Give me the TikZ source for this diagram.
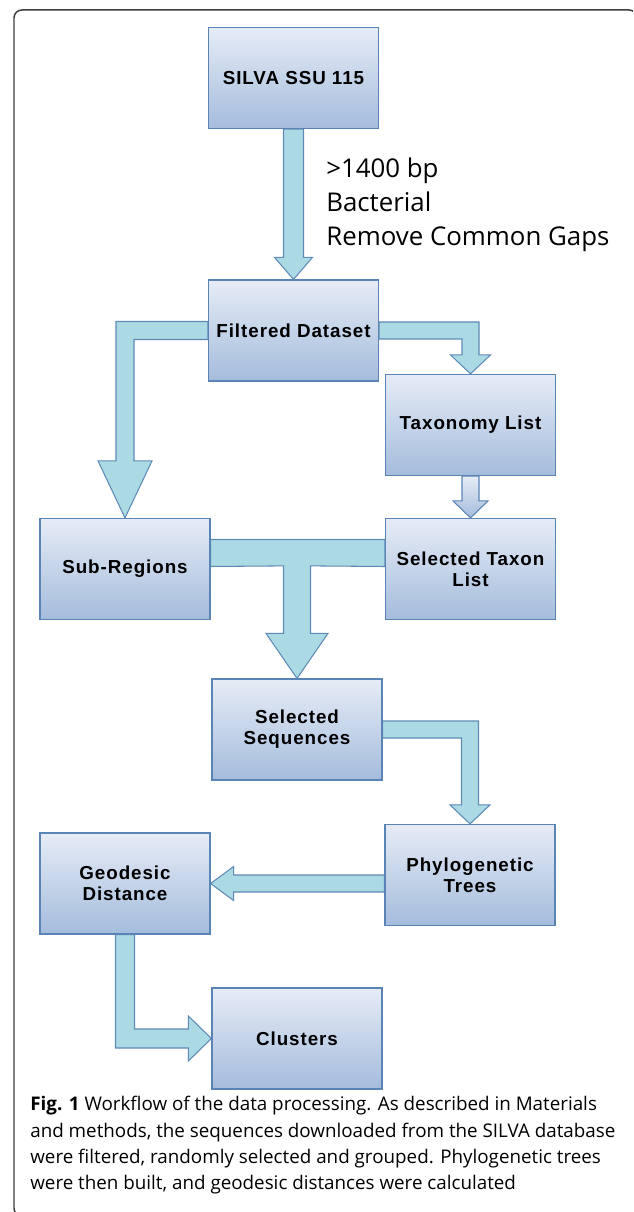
\documentclass[tikz,border=0pt]{standalone}
\usepackage{fontspec}
\setmainfont{Open Sans}
\newfontfamily\boxfont[LetterSpace=5]{Liberation Sans}
\usetikzlibrary{calc,backgrounds}
\definecolor{boxtop}{HTML}{E6ECF6}
\definecolor{boxbottom}{HTML}{A4BCDC}
\definecolor{boxline}{HTML}{5A84B6}
\definecolor{flowfill}{HTML}{ABDAE4}
\definecolor{flowline}{HTML}{5F8AB6}
\definecolor{framegray}{HTML}{3C3C3C}
\tikzset{
  stepbox/.style={draw=boxline,line width=0.7pt,top color=boxtop,bottom color=boxbottom,minimum width=3.4cm,minimum height=2.02cm,align=center,inner sep=2pt,font=\boxfont\bfseries\fontsize{10.7}{12}\selectfont},
  flowarrow/.style={draw=flowline,fill=flowfill,line width=0.6pt},
  flowarrowlight/.style={draw=boxline,top color=boxtop,bottom color=boxbottom,line width=0.6pt},
  notetext/.style={anchor=north west,inner sep=0pt,align=left,font=\fontsize{14.7}{19.3}\selectfont},
  captiontext/.style={anchor=north west,inner sep=0pt,align=left,font=\fontsize{10.7}{15}\selectfont}
}

\begin{document}
\begin{tikzpicture}[x=0.02cm,y=-0.02cm]
  \clip (0,0) rectangle (633,1212);
  \draw[framegray,line width=0.85pt,rounded corners=4.5pt] (14,10) rectangle (637,1216);

  % Workflow boxes
  \node[stepbox] (silva) at (293.5,78) {SILVA SSU 115};
  \node[stepbox] (filt) at (293.5,330.5) {Filtered Dataset};
  \node[stepbox] (taxo) at (470.5,425) {Taxonomy List};
  \node[stepbox] (subreg) at (125,569) {Sub-Regions};
  \node[stepbox] (seltax) at (470.5,569) {Selected Taxon\\List};
  \node[stepbox] (selseq) at (297,729.5) {Selected\\Sequences};
  \node[stepbox] (phylo) at (470,875) {Phylogenetic\\Trees};
  \node[stepbox] (geo) at (125,883.5) {Geodesic\\Distance};
  \node[stepbox] (clust) at (297,1038.5) {Clusters};

  % Filter criteria
  \node[notetext] (crit) at (326,158) {>1400 bp\\Bacterial\\Remove Common Gaps};

  % Block arrows
  \coordinate (c2) at (subreg.north |- filt.west);
  \coordinate (c3) at (taxo.north |- filt.east);
  \coordinate (tee) at ($(selseq.north)+(0,-112.5)$);
  \coordinate (c6) at (phylo.north |- selseq.east);
  \coordinate (c7) at (phylo.west |- geo.east);
  \coordinate (c8) at (geo.south |- clust.west);
  \begin{scope}[on background layer]
    \draw[flowarrow] ($(silva.south)+(-10,0)$) -- ($(filt.north)+(-10,-22)$) -- ($(filt.north)+(-19,-22)$) -- (filt.north)
      -- ($(filt.north)+(19,-22)$) -- ($(filt.north)+(10,-22)$) -- ($(silva.south)+(10,0)$) -- cycle;
    \draw[flowarrow] ($(filt.west)+(0,-9)$) -- ($(c2)+(-9,-9)$) -- ($(subreg.north)+(-9,-57)$) -- ($(subreg.north)+(-27,-57)$) -- (subreg.north)
      -- ($(subreg.north)+(27,-57)$) -- ($(subreg.north)+(9,-57)$) -- ($(c2)+(9,9)$) -- ($(filt.west)+(0,9)$) -- cycle;
    \draw[flowarrow] ($(filt.east)+(0,-8.5)$) -- ($(c3)+(8.5,-8.5)$) -- ($(taxo.north)+(8.5,-19)$) -- ($(taxo.north)+(20,-19)$) -- (taxo.north)
      -- ($(taxo.north)+(-20,-19)$) -- ($(taxo.north)+(-8.5,-19)$) -- ($(c3)+(-8.5,8.5)$) -- ($(filt.east)+(0,8.5)$) -- cycle;
    \draw[flowarrowlight] ($(taxo.south)+(-8.5,0)$) -- ($(seltax.north)+(-8.5,-17)$) -- ($(seltax.north)+(-17.5,-17)$) -- (seltax.north)
      -- ($(seltax.north)+(17.5,-17)$) -- ($(seltax.north)+(8.5,-17)$) -- ($(taxo.south)+(8.5,0)$) -- cycle;
    \draw[flowarrow] ($(subreg.east)+(0,-29.5)$) -- ($(seltax.west)+(0,-29.5)$) -- ($(seltax.west)+(0,-2.5)$) -- ($(tee)+(13.5,0)$)
      -- ($(selseq.north)+(13.5,-45)$) -- ($(selseq.north)+(31,-45)$) -- (selseq.north) -- ($(selseq.north)+(-31,-45)$)
      -- ($(selseq.north)+(-13.5,-45)$) -- ($(tee)+(-13.5,0)$) -- ($(subreg.east)+(0,-2.5)$) -- cycle;
    \draw[flowarrow] ($(selseq.east)+(0,-8.5)$) -- ($(c6)+(8.5,-8.5)$) -- ($(phylo.north)+(8.5,-19)$) -- ($(phylo.north)+(20,-19)$) -- (phylo.north)
      -- ($(phylo.north)+(-20,-19)$) -- ($(phylo.north)+(-8.5,-19)$) -- ($(c6)+(-8.5,8.5)$) -- ($(selseq.east)+(0,8.5)$) -- cycle;
    \draw[flowarrow] ($(c7)+(0,-8.5)$) -- ($(geo.east)+(23,-8.5)$) -- ($(geo.east)+(23,-17)$) -- (geo.east)
      -- ($(geo.east)+(23,17)$) -- ($(geo.east)+(23,8.5)$) -- ($(c7)+(0,8.5)$) -- cycle;
    \draw[flowarrow] ($(geo.south)+(-9.5,0)$) -- ($(c8)+(-9.5,9.5)$) -- ($(clust.west)+(-23,9.5)$) -- ($(clust.west)+(-23,22.5)$) -- (clust.west)
      -- ($(clust.west)+(-23,-22.5)$) -- ($(clust.west)+(-23,-9.5)$) -- ($(c8)+(9.5,-9.5)$) -- ($(geo.south)+(9.5,0)$) -- cycle;
  \end{scope}

  % Caption
  \node[captiontext] (cap) at (30,1096) {\textbf{Fig. 1} Workflow of the data processing. As described in Materials\\and methods, the sequences downloaded from the SILVA database\\were filtered, randomly selected and grouped. Phylogenetic trees\\were then built, and geodesic distances were calculated};
\end{tikzpicture}
\end{document}
